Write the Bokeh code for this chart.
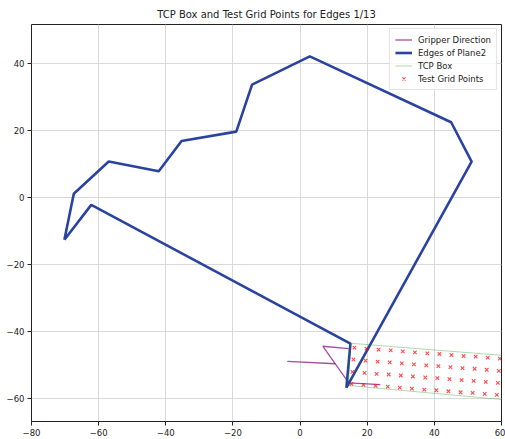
from bokeh.plotting import figure
from bokeh.models import Range1d, FixedTicker, Legend, LegendItem
from bokeh.embed import file_html
from bokeh.resources import INLINE

# ---- data ----
edge_x = [-70.2, -67.4, -57.0, -42.1, -35.3, -19.0, -14.3, 2.9, 45.0, 51.1, 13.8, 15.0, -62.2, -70.2]
edge_y = [-12.6, 1.1, 10.7, 7.8, 16.8, 19.6, 33.6, 42.0, 22.4, 10.7, -56.6, -43.5, -2.2, -12.6]

gripper_xs = [[-3.8, 10.5], [14.5, 6.8, 14.5, 23.9]]
gripper_ys = [[-48.8, -49.5], [-45.0, -44.3, -55.2, -55.7]]

tcp_x = [15.0, 75.0, 75.0, 14.4, 15.0]
tcp_y = [-43.4, -48.2, -61.5, -56.0, -43.4]

grid_x = [
    16.2, 19.8, 23.4, 27.0, 30.6, 34.2, 37.9, 41.5, 45.1, 48.7, 52.3, 55.9, 59.5,
    15.9, 19.5, 23.1, 26.7, 30.3, 33.9, 37.6, 41.2, 44.8, 48.4, 52.0, 55.6, 59.2,
    15.6, 19.2, 22.8, 26.4, 30.0, 33.6, 37.3, 40.9, 44.5, 48.1, 51.7, 55.3, 58.9,
    15.3, 18.9, 22.5, 26.1, 29.7, 33.3, 37.0, 40.6, 44.2, 47.8, 51.4, 55.0, 58.6,
]
grid_y = [
    -44.7, -45.0, -45.3, -45.5, -45.8, -46.1, -46.4, -46.6, -46.9, -47.2, -47.4, -47.7, -48.0,
    -48.3, -48.6, -48.9, -49.1, -49.4, -49.7, -50.0, -50.2, -50.5, -50.8, -51.0, -51.3, -51.6,
    -51.9, -52.2, -52.5, -52.7, -53.0, -53.3, -53.6, -53.8, -54.1, -54.4, -54.6, -54.9, -55.2,
    -55.5, -55.8, -56.1, -56.3, -56.6, -56.9, -57.2, -57.4, -57.7, -58.0, -58.2, -58.5, -58.8,
]

x_ticks = [-80, -60, -40, -20, 0, 20, 40, 60]
y_ticks = [-60, -40, -20, 0, 20, 40]
title_text = "TCP Box and Test Grid Points for Edges 1/13"

# ---- figure ----
p = figure(width=505, height=439, output_backend="svg", toolbar_location=None,
           x_range=Range1d(-80, 60), y_range=Range1d(-66.7, 51.5),
           min_border_left=31, min_border_right=4, min_border_top=24, min_border_bottom=18)

p.title.text = title_text
p.title.align = "center"
p.title.text_font = "DejaVu Sans"
p.title.text_font_size = "10px"
p.title.text_font_style = "normal"
p.title.text_color = "#222222"

p.outline_line_color = "#222222"
p.outline_line_width = 1
p.background_fill_color = "white"
p.border_fill_color = "white"

def minus(v):
    return str(v).replace("-", "\u2212")

for ax, ticks in ((p.xaxis[0], x_ticks), (p.yaxis[0], y_ticks)):
    ax.ticker = FixedTicker(ticks=ticks)
    ax.major_label_overrides = {t: minus(t) for t in ticks}
    ax.axis_line_color = None
    ax.major_tick_line_color = "#222222"
    ax.major_tick_out = 4
    ax.major_tick_in = 0
    ax.minor_tick_line_color = None
    ax.major_label_text_font = "DejaVu Sans"
    ax.major_label_text_font_size = "8.5px"
    ax.major_label_text_color = "#222222"
    ax.major_label_standoff = 3

p.grid.grid_line_color = "#d9d9d9"
p.grid.grid_line_width = 1
p.xgrid.ticker = FixedTicker(ticks=x_ticks)
p.ygrid.ticker = FixedTicker(ticks=y_ticks)

r_grip = p.multi_line(gripper_xs, gripper_ys, line_color="purple", line_alpha=0.7, line_width=1.3)
r_edge = p.line(edge_x, edge_y, line_color="#2a43a0", line_width=2.6)
r_tcp = p.line(tcp_x, tcp_y, line_color="green", line_alpha=0.35, line_width=0.9)
r_pts = p.scatter(grid_x, grid_y, marker="x", size=5, line_color="red", line_alpha=0.7, line_width=1.1)

legend = Legend(items=[
    LegendItem(label="Gripper Direction", renderers=[r_grip]),
    LegendItem(label="Edges of Plane2", renderers=[r_edge]),
    LegendItem(label="TCP Box", renderers=[r_tcp]),
    LegendItem(label="Test Grid Points", renderers=[r_pts]),
], location="top_right")
legend.margin = 4
legend.padding = 5
legend.spacing = 2
legend.label_height = 11
legend.glyph_height = 11
legend.glyph_width = 17
legend.label_standoff = 6
legend.label_text_font = "DejaVu Sans"
legend.label_text_font_size = "8.5px"
legend.label_text_color = "#222222"
legend.border_line_color = "#cccccc"
legend.border_line_width = 1
legend.background_fill_alpha = 0.8
p.add_layout(legend)

open("out.html", "w").write(file_html(p, INLINE))
